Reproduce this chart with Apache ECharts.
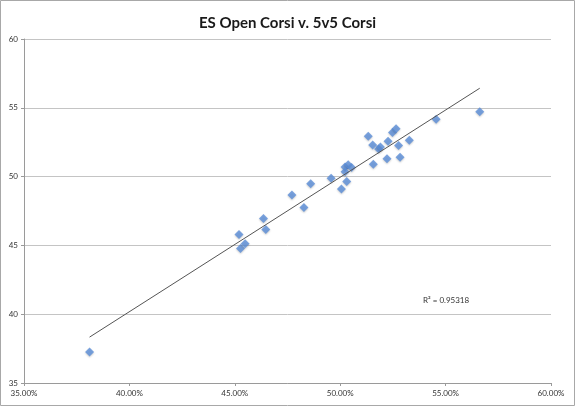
<!DOCTYPE html>
<html>
<head>
<meta charset="utf-8">
<script src="https://cdn.jsdelivr.net/npm/echarts@6/dist/echarts.min.js"></script>
<style>
  html, body { margin: 0; padding: 0; background: #fff; }
  #chart { width: 575px; height: 406px; }
</style>
</head>
<body>
<div id="chart"></div>
<script>
// ES Open Corsi (%) on x, 5v5 Corsi on y
const esOpenCorsi = [38.11, 45.20, 45.27, 45.49, 46.36, 46.47, 47.71, 48.28, 48.60, 49.57,
  50.06, 50.31, 50.23, 50.38, 50.54, 50.23, 51.33, 51.54, 51.57, 51.82,
  51.91, 52.22, 52.27, 52.48, 52.65, 52.77, 52.84, 53.28, 54.55, 56.62];
const corsi5v5 = [37.25, 45.80, 44.78, 45.12, 46.96, 46.16, 48.66, 47.76, 49.48, 49.88,
  49.10, 49.65, 50.70, 50.87, 50.67, 50.36, 52.94, 52.30, 50.90, 52.01,
  52.15, 51.30, 52.57, 53.21, 53.47, 52.26, 51.40, 52.65, 54.16, 54.72];
const xTicks = [35, 40, 45, 50, 55, 60];
const yTicks = [35, 40, 45, 50, 55, 60];
const titleText = 'ES Open Corsi v. 5v5 Corsi';
const r2Text = 'R² = 0.95318';

const points = esOpenCorsi.map((x, i) => [x, corsi5v5[i]]);

// linear least-squares trendline from the data
const n = points.length;
const mx = esOpenCorsi.reduce((a, b) => a + b, 0) / n;
const my = corsi5v5.reduce((a, b) => a + b, 0) / n;
let sxy = 0, sxx = 0;
for (let i = 0; i < n; i++) {
  sxy += (esOpenCorsi[i] - mx) * (corsi5v5[i] - my);
  sxx += (esOpenCorsi[i] - mx) ** 2;
}
const slope = sxy / sxx;
const intercept = my - slope * mx;
const xMin = Math.min(...esOpenCorsi), xMax = Math.max(...esOpenCorsi);
const trend = [[xMin, intercept + slope * xMin], [xMax, intercept + slope * xMax]];

const chart = echarts.init(document.getElementById('chart'), null, { renderer: 'canvas' });
chart.setOption({
  animation: false,
  backgroundColor: '#fff',
  title: {
    text: titleText,
    left: 'center',
    top: 11,
    textStyle: { fontFamily: 'Lato', fontWeight: 'bold', fontSize: 15, color: '#1a1a1a' }
  },
  grid: { left: 24, right: 24, top: 39, bottom: 23, containLabel: false },
  xAxis: {
    type: 'value',
    min: xTicks[0], max: xTicks[xTicks.length - 1], interval: 5,
    axisLine: { show: true, lineStyle: { color: '#9a9a9a', width: 1 } },
    axisTick: { show: true, length: 3, inside: false, lineStyle: { color: '#9a9a9a' } },
    splitLine: { show: false },
    axisLabel: {
      fontFamily: 'Lato', fontSize: 8, color: '#333', margin: 6,
      formatter: v => v.toFixed(2) + '%'
    }
  },
  yAxis: {
    type: 'value',
    min: yTicks[0], max: yTicks[yTicks.length - 1], interval: 5,
    axisLine: { show: true, lineStyle: { color: '#9a9a9a', width: 1 } },
    axisTick: { show: true, length: 3, lineStyle: { color: '#9a9a9a' } },
    splitLine: { show: true, lineStyle: { color: '#c4c4c4', width: 1 } },
    axisLabel: { fontFamily: 'Lato', fontSize: 8, color: '#333', margin: 6 }
  },
  graphic: [
    {
      type: 'rect', silent: true, z: 100,
      shape: { x: 0.5, y: 0.5, width: 574, height: 405 },
      style: { fill: null, stroke: '#a8a8a8', lineWidth: 1 }
    },
    {
      type: 'text', left: 423, top: 296,
      style: { text: r2Text, font: '8px Lato', fill: '#333' }
    }
  ],
  series: [
    {
      type: 'line',
      data: trend,
      symbol: 'none',
      lineStyle: { color: '#555', width: 1 },
      z: 3
    },
    {
      type: 'scatter',
      data: points,
      symbol: 'diamond',
      symbolSize: 9,
      itemStyle: {
        color: '#5a8dd8',
        shadowColor: 'rgba(0,0,0,0.25)', shadowBlur: 2, shadowOffsetY: 1
      },
      z: 2
    }
  ]
});
</script>
</body>
</html>
